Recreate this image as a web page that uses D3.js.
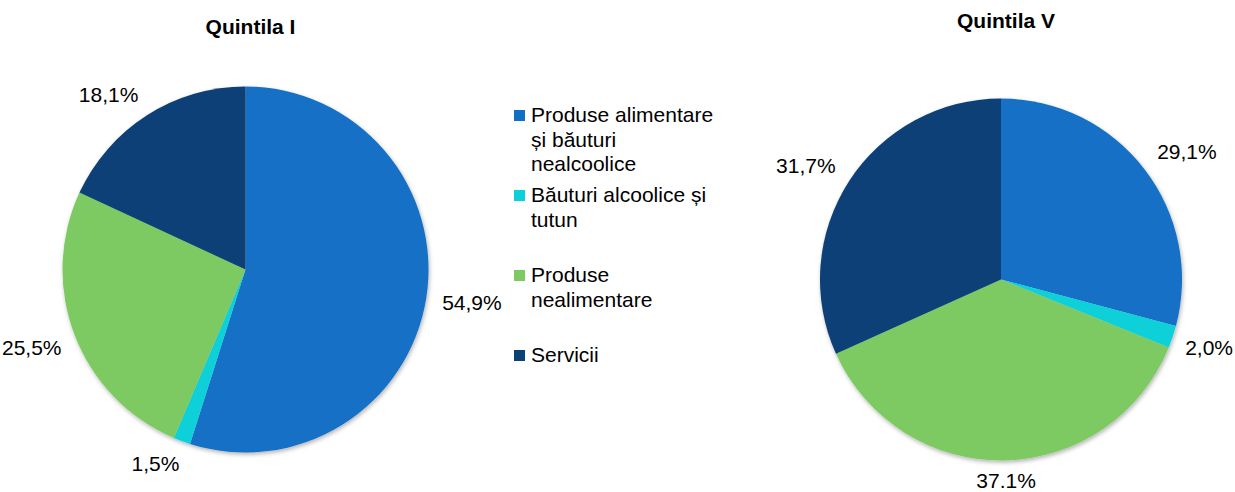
<!DOCTYPE html>
<html>
<head>
<meta charset="utf-8">
<script src="https://cdn.jsdelivr.net/npm/d3@7"></script>
<style>
    html, body { margin: 0; padding: 0; background: #fff; }
    svg { display: block; font-family: "Liberation Sans", Arial, sans-serif; }
</style>
</head>
<body>
<svg id="chart" width="1235" height="492"></svg>
<script>
//  data
const categories = [
    "Produse alimentare și băuturi nealcoolice",
    "Băuturi alcoolice și tutun",
    "Produse nealimentare",
    "Servicii"
];
const colors = ["#126fc6", "#0bd0d9", "#7dca64", "#0c4176"];

const quintileI = [54.9, 1.5, 25.5, 18.1];
const quintileILabels = ["54,9%", "1,5%", "25,5%", "18,1%"];

const quintileV = [29.1, 2.0, 37.1, 31.7];
const quintileVLabels = ["29,1%", "2,0%", "37.1%", "31,7%"];

const titles = ["Quintila I", "Quintila V"];

const W = 1235, H = 492;
const svg = d3.select("#chart");
const fontSize = 21;

//  soft shadow like the office chart
const defs = svg.append("defs");
defs.append("filter").attr("id", "shadow")
    .attr("x", "-10%").attr("y", "-10%").attr("width", "120%").attr("height", "125%")
    .append("feDropShadow")
    .attr("dx", 1).attr("dy", 2).attr("stdDeviation", 2)
    .attr("flood-color", "#000").attr("flood-opacity", 0.3);

const pie = d3.pie().sort(null).value(d => d);
const clamp = v => Math.max(-1, Math.min(1, v));

function drawPie(values, labels, title, cx, cy, r, titleY) {
    const g = svg.append("g").attr("transform", `translate(${cx},${cy})`);
    const arc = d3.arc().innerRadius(0).outerRadius(r);
    const arcs = pie(values);

    g.append("g").attr("filter", "url(#shadow)")
        .selectAll("path")
        .data(arcs)
        .join("path")
        .attr("d", arc)
        .attr("fill", (d, i) => colors[i]);

    //  labels "outside end": the box side facing the pie sits just past the rim
    const pad = 16, capH = 15, k = 2.5;
    g.selectAll("text.lbl")
        .data(arcs)
        .join("text")
        .attr("class", "lbl")
        .attr("text-anchor", "middle")
        .attr("font-size", fontSize)
        .attr("fill", "#000")
        .text((d, i) => labels[i])
        .each(function (d) {
            const a = (d.startAngle + d.endAngle) / 2;
            const dx = Math.sin(a), dy = -Math.cos(a);
            const w = this.getComputedTextLength();
            const px = dx * (r + pad), py = dy * (r + pad);
            let x = px + clamp(dx * k) * w / 2;
            let y = py + clamp(dy * k) * capH / 2 + capH / 2;     //  baseline
            //  keep inside the picture
            x = Math.max(2 + w / 2 - cx, Math.min(W - 2 - w / 2 - cx, x));
            y = Math.min(H - 4 - cy, y);
            d3.select(this).attr("x", x).attr("y", y);
        });

    svg.append("text")
        .attr("x", cx + 5).attr("y", titleY)
        .attr("text-anchor", "middle")
        .attr("font-size", fontSize)
        .attr("font-weight", "bold")
        .text(title);
}

drawPie(quintileI, quintileILabels, titles[0], 245.5, 269.5, 183, 34);
drawPie(quintileV, quintileVLabels, titles[1], 1001, 279.5, 181, 28);

//  legend, wrapped at a fixed width
const legend = svg.append("g").attr("transform", "translate(514,122)");
const maxWidth = 190, lineH = 24.5, step = 80;

categories.forEach((c, i) => {
    const item = legend.append("g").attr("transform", `translate(0,${i * step})`);
    item.append("rect")
        .attr("x", 0).attr("y", -12).attr("width", 11).attr("height", 11)
        .attr("fill", colors[i]);
    const txt = item.append("text").attr("font-size", fontSize).attr("fill", "#000");
    const words = c.split(" ");
    let line = [], lineNo = 0;
    let tspan = txt.append("tspan").attr("x", 17).attr("y", 0);
    words.forEach(wd => {
        line.push(wd);
        tspan.text(line.join(" "));
        if (tspan.node().getComputedTextLength() > maxWidth && line.length > 1) {
            line.pop();
            tspan.text(line.join(" "));
            line = [wd];
            lineNo++;
            tspan = txt.append("tspan").attr("x", 17).attr("y", lineNo * lineH).text(wd);
        }
    });
});
</script>
</body>
</html>
